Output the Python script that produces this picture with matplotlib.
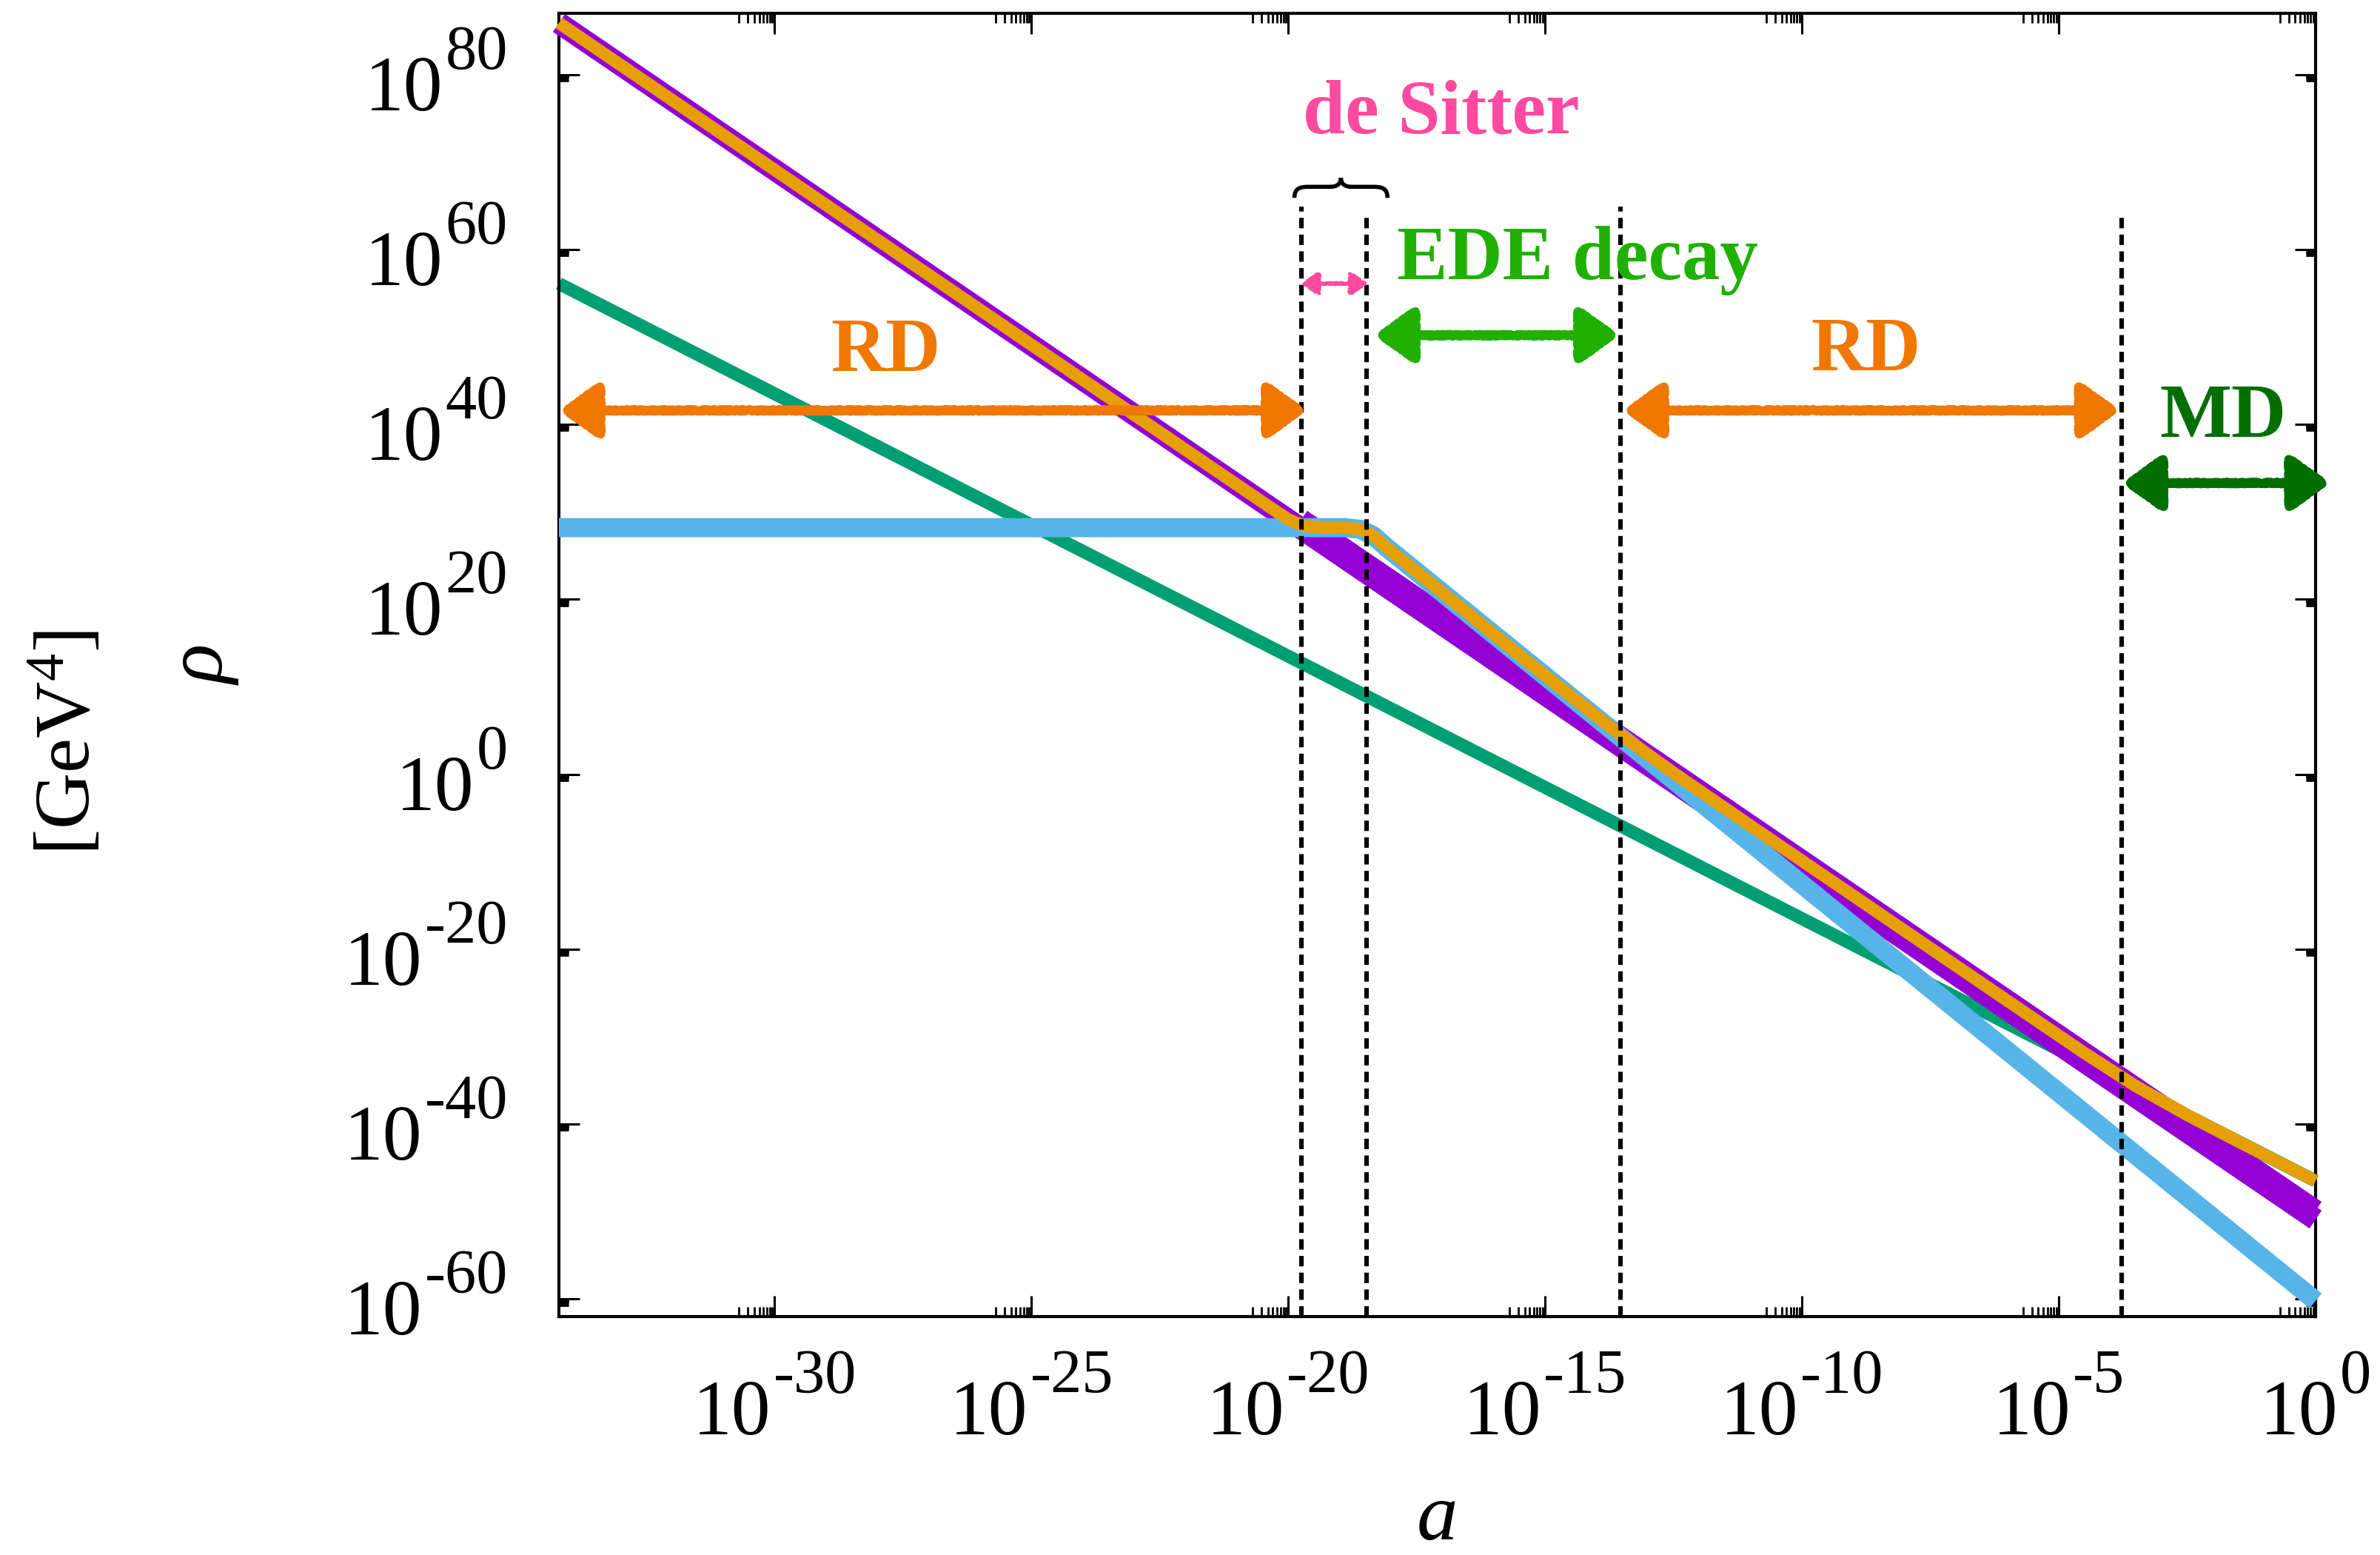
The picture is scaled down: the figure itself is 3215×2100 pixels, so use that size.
import numpy as np
import matplotlib
matplotlib.use("Agg")
import matplotlib.pyplot as plt
from matplotlib.path import Path
from matplotlib.patches import PathPatch, FancyArrowPatch, ArrowStyle
from matplotlib.transforms import IdentityTransform, Affine2D
from matplotlib.ticker import FixedLocator, NullFormatter

plt.rcParams['font.family'] = ['Liberation Serif', 'DejaVu Serif']
plt.rcParams['mathtext.fontset'] = 'custom'
plt.rcParams['mathtext.rm'] = 'Liberation Serif'
plt.rcParams['mathtext.it'] = 'Liberation Serif:italic'
plt.rcParams['mathtext.bf'] = 'Liberation Serif:bold'

# ---- energy densities: log10(a) and log10(rho / GeV^4) ----
radiation_loga = [-34.2, 0.0]
radiation_logrho = [85.9, -50.9]
radiation_late_loga = [-19.75, 0.0]
radiation_late_logrho = [29.1, -49.9]
matter_loga = [-34.2, 0.0]
matter_logrho = [56.1, -46.5]
ede_loga = [-34.2, -18.9, -18.6, -18.35, -18.1, 0.0]
ede_logrho = [28.2, 28.2, 28.0, 27.3, 26.0, -60.2]
total_loga = [-34.2, -20.4, -20.0, -19.7, -19.3, -18.9, -18.6, -18.35, -18.1,
              -15.2, -14.0, -13.5, -12.5, -11.0, -6.0, -4.5, -3.5, -2.5, -1.5, 0.0]
total_logrho = [85.9, 30.7, 29.15, 28.38, 28.21, 28.2, 28.0, 27.3, 26.0,
                12.22, 6.63, 4.4, 0.17, -5.89, -25.89, -31.87, -35.65, -38.95, -42.0, -46.5]

# epoch boundaries (log10 a) and the height where their markers stop
boundary_loga = [-19.75, -18.47, -13.53, -3.78]
boundary_top_logrho = [64.9, 64.1, 64.9, 64.3]

x_tick_exponents = [-30, -25, -20, -15, -10, -5, 0]
y_tick_exponents = [-60, -40, -20, 0, 20, 40, 60, 80]

C_PURPLE = '#9400D3'
C_GREEN = '#009E73'
C_CYAN = '#56B4E9'
C_ORANGE = '#E69F00'
C_RD = '#F07800'
C_DS = '#FF4AA0'
C_EDE = '#20B000'
C_MD = '#006F00'

# epoch labels: text, log10 a (centre), log10 rho (baseline), colour
epoch_labels = [
    ("de Sitter", -17.03, 73.3, C_DS),
    ("EDE decay", -14.37, 56.6, C_EDE),
    ("RD", -27.84, 46.1, C_RD),
    ("RD", -8.76, 46.2, C_RD),
    ("MD", -1.80, 38.6, C_MD),
]
# epoch arrows: log10 a from, log10 a to, log10 rho, colour, size
epoch_arrows = [
    (-34.18, -19.65, 41.6, C_RD, 'big'),
    (-13.47, -3.82, 41.6, C_RD, 'big'),
    (-18.31, -13.57, 50.2, C_EDE, 'big'),
    (-3.75, 0.27, 33.3, C_MD, 'big'),
    (-19.74, -18.46, 56.1, C_DS, 'small'),
]
# curly brace over the de Sitter interval (log10 a left/right, log10 rho bottom/top)
brace_box = (-19.88, -18.07, 65.9, 68.2)

W_PX, H_PX, DPI = 3216, 2100, 200
fig = plt.figure(figsize=(W_PX / DPI, H_PX / DPI), dpi=DPI)
ax = fig.add_axes([755 / W_PX, 322 / H_PX, 2373 / W_PX, 1760 / H_PX])
ax.set_xscale('log')
ax.set_yscale('log')
ax.set_xlim(10.0 ** -34.2, 1.0)
ax.set_ylim(1e-62, 1e87)


def curve(loga, logrho, **kw):
    ax.plot(10.0 ** np.asarray(loga), 10.0 ** np.asarray(logrho),
            solid_capstyle='butt', solid_joinstyle='round', clip_on=False, **kw)


curve(matter_loga, matter_logrho, color=C_GREEN, lw=6.3, zorder=2)
curve(radiation_loga, radiation_logrho, color=C_PURPLE, lw=10.5, zorder=3)
curve(radiation_late_loga, radiation_late_logrho, color=C_PURPLE, lw=10.5, zorder=3)
curve(ede_loga, ede_logrho, color=C_CYAN, lw=9.3, zorder=4)
curve(total_loga, total_logrho, color=C_ORANGE, lw=6.0, zorder=5)

for b, top in zip(boundary_loga, boundary_top_logrho):
    ax.plot([10.0 ** b, 10.0 ** b], [1e-62, 10.0 ** top], color='black',
            lw=2.2, dashes=(2.3, 1.4), zorder=6)

for s, xa, yr, c in epoch_labels:
    ax.text(10.0 ** xa, 10.0 ** yr, s, ha='center', va='baseline',
            fontsize=37, fontweight='bold', color=c, zorder=8)

for a0, a1, yr, c, size in epoch_arrows:
    if size == 'big':
        style = ArrowStyle("<|-|>", head_length=16.0, head_width=11.5)
        lw = 4.2
    else:
        style = ArrowStyle("<|-|>", head_length=7.0, head_width=4.8)
        lw = 1.6
    arr = FancyArrowPatch((10.0 ** a0, 10.0 ** yr), (10.0 ** a1, 10.0 ** yr),
                          arrowstyle=style, mutation_scale=1, lw=lw, color=c,
                          shrinkA=0, shrinkB=0, clip_on=False, zorder=7)
    arr.set_sketch_params(scale=1.3, length=2.5, randomness=2)
    ax.add_patch(arr)

# axes frame and ticks
for sp in ax.spines.values():
    sp.set_linewidth(1.5)
ax.xaxis.set_major_locator(FixedLocator([10.0 ** e for e in x_tick_exponents]))
ax.xaxis.set_minor_locator(FixedLocator([k * 10.0 ** (e - 1) for e in x_tick_exponents for k in range(2, 10)]))
ax.yaxis.set_major_locator(FixedLocator([10.0 ** e for e in y_tick_exponents]))
ax.yaxis.set_minor_locator(FixedLocator([k * 10.0 ** (e - 1) for e in y_tick_exponents for k in range(2, 10)]))
for axis in (ax.xaxis, ax.yaxis):
    axis.set_major_formatter(NullFormatter())
    axis.set_minor_formatter(NullFormatter())
ax.tick_params(which='both', direction='in', top=True, right=True,
               labelbottom=False, labelleft=False)
ax.tick_params(which='major', length=10, width=1.1)
ax.tick_params(which='minor', length=4.8, width=1.0)

# power-of-ten tick labels built from a base and a raised exponent
renderer = fig.canvas.get_renderer()
FS = 38
GAP = 3
SUP_RISE = 56


def power_label(x_anchor, y_base, exponent, align):
    t1 = fig.text(0, 0, "10", fontsize=FS, transform=IdentityTransform(),
                  ha='left', va='baseline')
    t2 = fig.text(0, 0, exponent, fontsize=FS * 0.8, transform=IdentityTransform(),
                  ha='left', va='baseline')
    w1 = t1.get_window_extent(renderer).width
    w2 = t2.get_window_extent(renderer).width
    total = w1 + GAP + w2
    left = x_anchor - total / 2 if align == 'center' else x_anchor - total
    t1.set_position((left, y_base))
    t2.set_position((left + w1 + GAP, y_base + SUP_RISE))


for e in x_tick_exponents:
    xd, _ = ax.transData.transform((10.0 ** e, 1.0))
    power_label(xd, H_PX - 1937, str(e), 'center')
for e in y_tick_exponents:
    _, yd = ax.transData.transform((1e-10, 10.0 ** e))
    power_label(686, yd - 48, str(e), 'right')

# axis titles
fig.text(1940, H_PX - 2052, r"$a$", fontsize=40, ha='center', va='center',
         transform=IdentityTransform())
fig.text(275, H_PX - 898, r"$\rho$", fontsize=40, ha='center', va='center',
         rotation=90, transform=IdentityTransform())
fig.text(93, H_PX - 1003, r"[GeV$^{4}$]", fontsize=38, ha='center', va='center',
         rotation=90, transform=IdentityTransform())

# curly brace above the de Sitter interval
bx0, bx1, by0, by1 = brace_box
(x0, y0) = ax.transData.transform((10.0 ** bx0, 10.0 ** by0))
(x1, y1) = ax.transData.transform((10.0 ** bx1, 10.0 ** by1))
M, C4, L = Path.MOVETO, Path.CURVE4, Path.LINETO
brace_verts = [(0, 0), (0, 0.45), (0.05, 0.55), (0.15, 0.55), (0.38, 0.55),
               (0.46, 0.55), (0.5, 0.7), (0.5, 1.0), (0.5, 0.7), (0.54, 0.55),
               (0.62, 0.55), (0.85, 0.55), (0.95, 0.55), (1, 0.45), (1, 0)]
brace_codes = [M, C4, C4, C4, L, C4, C4, C4, C4, C4, C4, L, C4, C4, C4]
brace = PathPatch(Path(brace_verts, brace_codes), fill=False, lw=2.0, color='black',
                  transform=Affine2D().scale(x1 - x0, y1 - y0).translate(x0, y0))
fig.add_artist(brace)

fig.savefig("out.png", dpi=DPI)
